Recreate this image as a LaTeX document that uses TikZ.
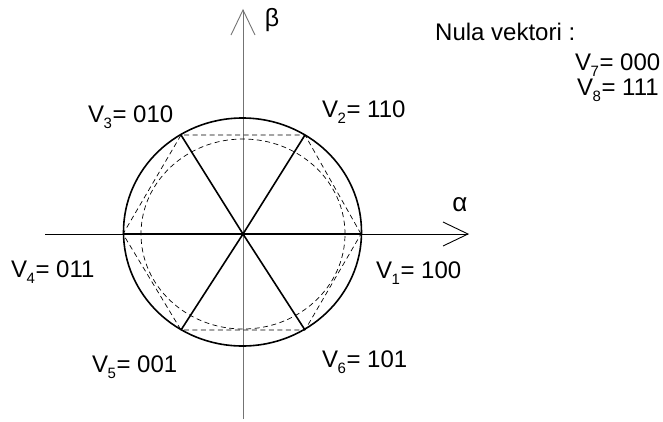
\documentclass[tikz,border=0pt]{standalone}
\usepackage{fontspec}
\setmainfont{Liberation Sans}
\usetikzlibrary{calc}
\newcommand{\vsub}[2]{V\kern-0.5pt\raisebox{-0.27em}{\fontsize{15}{15}\selectfont #1}\kern0.5pt= #2}
\begin{document}
\begin{tikzpicture}[x=1pt,y=-1pt,
  lbl/.style={anchor=base west,inner sep=0pt,font=\fontsize{24}{28}\selectfont},
  spoke/.style={line width=1.6pt,black},
  dsh/.style={line width=0.7pt,dash pattern=on 5pt off 3.5pt},
  axisline/.style={line width=0.9pt}]
\useasboundingbox (0,0) rectangle (663,421);
% coordinates
\coordinate (O) at (243,234);
\coordinate (C) at (242.5,232);
\coordinate (v1) at (361,234);
\coordinate (v2) at (305,135);
\coordinate (v3) at (181,135);
\coordinate (v4) at (123,234);
\coordinate (v5) at (181,330);
\coordinate (v6) at (305,330);
\coordinate (xs) at (45,234);
\coordinate (xe) at (468,234);
\coordinate (ys) at (243,419);
\coordinate (ye) at (243,10);
% axes
\draw[axisline,black!55] (ys) -- (ye);
\draw[axisline,black!55] ($(ye)+(-12,25)$) -- (ye) -- ($(ye)+(12,25)$);
\draw[axisline] (xs) -- (xe);
\draw[axisline] ($(xe)+(-25,-12)$) -- (xe) -- ($(xe)+(-25,12)$);
% circles
\draw[line width=1.6pt] (C) ellipse [x radius=119pt, y radius=114pt];
\draw[dsh] (O) ellipse [x radius=102pt, y radius=95pt];
% dashed hexagon
\draw[dsh] (v1) -- (v2) -- (v3) -- (v4) -- (v5) -- (v6) -- cycle;
% spokes
\foreach \v in {v1,v2,v3,v4,v5,v6} \draw[spoke] (O) -- (\v);
% axis labels
\node[inner sep=0pt,font=\fontsize{25}{27}\selectfont] (beta) at (272,20) {β};
\node[inner sep=0pt,font=\fontsize{26}{28}\selectfont] (alpha) at (460,205) {α};
% vector labels
\node[lbl] (l3) at (88,122) {\vsub{3}{010}};
\node[lbl] (l2) at (322,117) {\vsub{2}{110}};
\node[lbl] (l4) at (11,277) {\vsub{4}{011}};
\node[lbl] (l1) at (376,278) {\vsub{1}{100}};
\node[lbl] (l5) at (92,372) {\vsub{5}{001}};
\node[lbl] (l6) at (322,367) {\vsub{6}{101}};
\node[lbl] (nula) at (435,40) {Nula vektori :};
\node[lbl] (l7) at (575,70) {\vsub{7}{000}};
\node[lbl] (l8) at (577,95) {\vsub{8}{111}};
\end{tikzpicture}
\end{document}
